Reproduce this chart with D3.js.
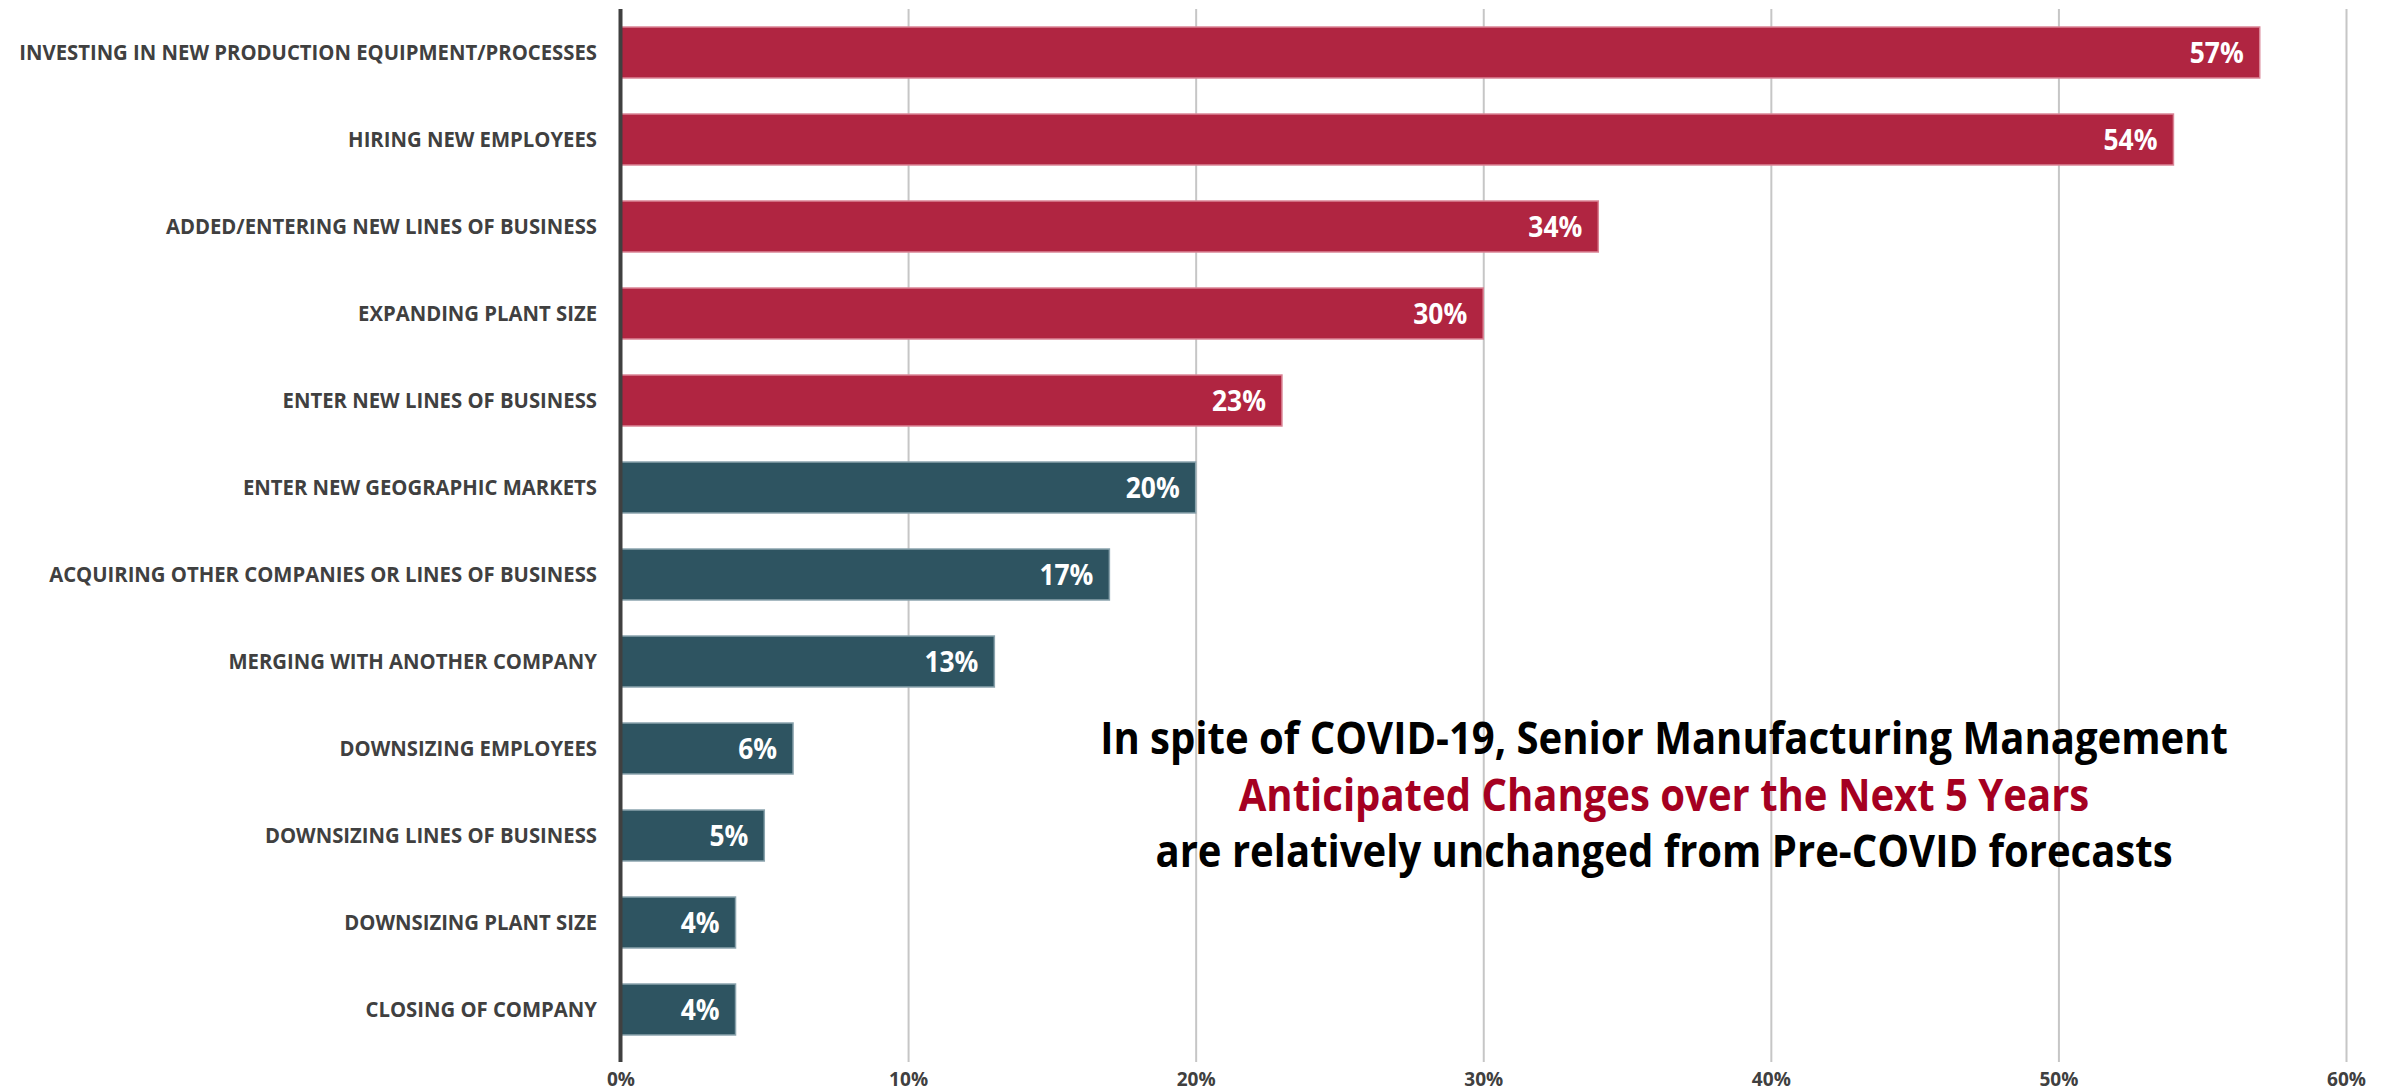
<!DOCTYPE html>
<html>
<head>
<meta charset="utf-8">
<script src="https://cdn.jsdelivr.net/npm/d3@7"></script>
<style>
  html, body { margin: 0; padding: 0; background: #ffffff; }
  svg { display: block; }
  text { font-family: "Open Sans", "Noto Sans", sans-serif; font-weight: 700; }
</style>
</head>
<body>
<svg id="chart" width="2394" height="1092"></svg>
<script>
// ---------------- DATA ----------------
const categories = [
  "INVESTING IN NEW PRODUCTION EQUIPMENT/PROCESSES",
  "HIRING NEW EMPLOYEES",
  "ADDED/ENTERING NEW LINES OF BUSINESS",
  "EXPANDING PLANT SIZE",
  "ENTER NEW LINES OF BUSINESS",
  "ENTER NEW GEOGRAPHIC MARKETS",
  "ACQUIRING OTHER COMPANIES OR LINES OF BUSINESS",
  "MERGING WITH ANOTHER COMPANY",
  "DOWNSIZING EMPLOYEES",
  "DOWNSIZING LINES OF BUSINESS",
  "DOWNSIZING PLANT SIZE",
  "CLOSING OF COMPANY"
];
const values = [57, 54, 34, 30, 23, 20, 17, 13, 6, 5, 4, 4];
const groups = ["top", "top", "top", "top", "top", "rest", "rest", "rest", "rest", "rest", "rest", "rest"];
const tickValues = [0, 10, 20, 30, 40, 50, 60];
const tickLabels = ["0%", "10%", "20%", "30%", "40%", "50%", "60%"];
const annotationLines = [
  "In spite of COVID-19, Senior Manufacturing Management",
  "Anticipated Changes over the Next 5 Years",
  "are relatively unchanged from Pre-COVID forecasts"
];
const annotationRoles = ["plain", "accent", "plain"];

// ---------------- STYLE ----------------
const fillColor = { top: "#B02541", rest: "#2E5461" };
const strokeColor = { top: "#DA8495", rest: "#8AA3AD" };
const annColor = { plain: "#000000", accent: "#A50021" };
const labelGrey = "#404040";

const svg = d3.select("#chart");
const plotTop = 9, plotBottom = 1062;

const x = d3.scaleLinear().domain([0, 60]).range([620.5, 2346]);
const y = d3.scaleBand().domain(categories).range([9, 1053]).paddingInner(0.414).paddingOuter(0.207);

// width-fit helper (emulates the narrow Calibri-like face)
function fitFactor(str, size, target) {
  const t = svg.append("text").attr("font-size", size).text(str);
  const w = t.node().getComputedTextLength();
  t.remove();
  return target / w;
}
const catSize = 22, annSize = 44, valSize = 28, tickSize = 20;
const kCat = fitFactor("ACQUIRING OTHER COMPANIES OR LINES OF BUSINESS", catSize, 548);
const kAnn = fitFactor(annotationLines[0], annSize, 1128);
const kVal = fitFactor("57%", valSize, 54);
const kTick = fitFactor("40%", tickSize, 39);

// ---------------- GRID + AXIS ----------------
const axis = d3.axisBottom(x)
  .tickValues(tickValues)
  .tickFormat((d, i) => tickLabels[i])
  .tickSize(-(plotBottom - plotTop))
  .tickPadding(0);

const gAxis = svg.append("g").attr("transform", `translate(0,${plotBottom})`).call(axis);
gAxis.select(".domain").remove();
gAxis.selectAll(".tick line").attr("stroke", "#c6c6c6").attr("stroke-width", 2);
gAxis.selectAll(".tick text")
  .attr("y", 24).attr("dy", 0)
  .attr("fill", labelGrey)
  .attr("font-size", tickSize)
  .attr("font-family", null)
  .attr("transform", `scale(${kTick},1)`)
  .attr("x", 0);

// ---------------- BARS ----------------
const data = categories.map((c, i) => ({ c, v: values[i], g: groups[i] }));

svg.append("g").selectAll("rect").data(data).join("rect")
  .attr("x", x(0))
  .attr("y", d => y(d.c))
  .attr("width", d => x(d.v) - x(0))
  .attr("height", y.bandwidth())
  .attr("fill", d => fillColor[d.g])
  .attr("stroke", d => strokeColor[d.g])
  .attr("stroke-width", 1.5);

// zero axis line
svg.append("line")
  .attr("x1", x(0)).attr("x2", x(0))
  .attr("y1", plotTop).attr("y2", plotBottom)
  .attr("stroke", "#404040").attr("stroke-width", 4);

// value labels
svg.append("g").selectAll("g").data(data).join("g")
  .attr("transform", d => `translate(${x(d.v) - 16},${y(d.c) + y.bandwidth() / 2}) scale(${kVal},1)`)
  .append("text")
  .attr("text-anchor", "end")
  .attr("dy", "0.36em")
  .attr("font-size", valSize)
  .attr("fill", "#ffffff")
  .text(d => d.v + "%");

// category labels
svg.append("g").selectAll("g").data(data).join("g")
  .attr("transform", d => `translate(597,${y(d.c) + y.bandwidth() / 2}) scale(${kCat},1)`)
  .append("text")
  .attr("text-anchor", "end")
  .attr("dy", "0.36em")
  .attr("font-size", catSize)
  .attr("fill", labelGrey)
  .text(d => d.c);

// ---------------- ANNOTATION ----------------
const annY = [754, 811, 867];
svg.append("g").selectAll("g").data(annotationLines).join("g")
  .attr("transform", (d, i) => `translate(1664,${annY[i]}) scale(${kAnn},1)`)
  .append("text")
  .attr("text-anchor", "middle")
  .attr("font-size", annSize)
  .attr("fill", (d, i) => annColor[annotationRoles[i]])
  .text(d => d);
</script>
</body>
</html>
